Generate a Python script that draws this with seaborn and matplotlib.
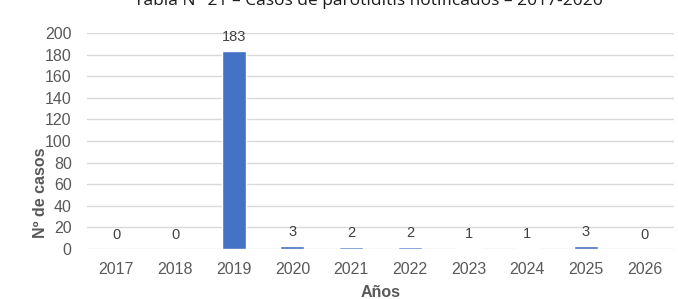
import matplotlib
matplotlib.use("Agg")
import matplotlib.pyplot as plt
import seaborn as sns
import pandas as pd

years = ["2017", "2018", "2019", "2020", "2021", "2022", "2023", "2024", "2025", "2026"]
cases = [0, 0, 183, 3, 2, 2, 1, 1, 3, 0]
title = "Tabla N° 21 – Casos de parotiditis notificados – 2017-2026"
xlabel = "Años"
ylabel = "Nº de casos"

sns.set_theme(style="white")
plt.rcParams['font.family'] = ['Liberation Sans', 'DejaVu Sans']

df = pd.DataFrame({"year": years, "cases": cases})

fig = plt.figure(figsize=(6.78, 2.99), dpi=100)
ax = fig.add_axes([87/678, 1-249/299, (674-87)/678, (249-33)/299])

sns.barplot(data=df, x="year", y="cases", color="#4472C4", saturation=1,
            width=0.41, ax=ax, zorder=3)

ax.set_ylim(0, 200)
ax.set_xlim(-0.5, len(years) - 0.5)
ax.set_yticks(range(0, 201, 20))
ax.grid(axis="y", color="#D9D9D9", linewidth=1, zorder=0)
ax.set_axisbelow(True)
for s in ax.spines.values():
    s.set_visible(False)

ax.tick_params(axis="both", length=0, labelsize=11.5, labelcolor="#595959")
ax.tick_params(axis="x", pad=9)
ax.tick_params(axis="y", pad=11)

for i, v in enumerate(cases):
    ax.annotate(str(v), (i, v), xytext=(0, 5), textcoords="offset points",
                ha="center", va="bottom", fontsize=10.5, color="#404040")

ax.set_xlabel(xlabel, fontsize=11.5, fontweight="bold", color="#595959", labelpad=6)
ax.set_ylabel(ylabel, fontsize=11.5, fontweight="bold", color="#595959", labelpad=0)
ax.yaxis.set_label_coords(-0.067, 0.26)

fig.text(368/678, 1 - 5/299, title, ha="center", va="baseline",
         fontsize=12.5, color="#1a1a1a", family=["Open Sans", "DejaVu Sans"])

fig.savefig("out.png", dpi=100)
